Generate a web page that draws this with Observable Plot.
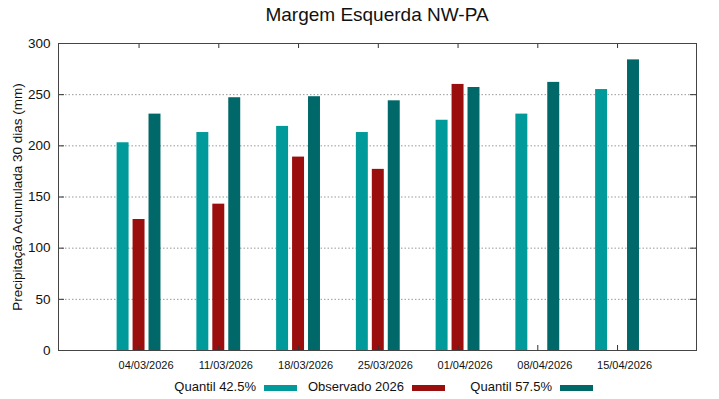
<!DOCTYPE html>
<html><head><meta charset="utf-8">
<script src="https://cdn.jsdelivr.net/npm/d3@7"></script>
<script src="https://cdn.jsdelivr.net/npm/@observablehq/plot@0.6"></script>
<style>
body{margin:0;background:#fff;font-family:"Liberation Sans",Arial,sans-serif;}
#wrap{position:relative;width:719px;height:399px;}
#title{position:absolute;left:0;width:754px;top:4px;text-align:center;font-size:19px;color:#111;}
.lg{position:absolute;top:379px;font-size:13px;color:#111;}
.sw{position:absolute;top:385px;width:33px;height:6px;}
</style></head>
<body><div id="wrap"><div id="title">Margem Esquerda NW-PA</div></div>
<script>
const dates = ["04/03/2026","11/03/2026","18/03/2026","25/03/2026","01/04/2026","08/04/2026","15/04/2026"];
const q425 = [203, 213, 219, 213, 225, 231, 255];
const obs2026 = [128, 143, 189, 177, 260, null, null];
const q575 = [231, 247, 248, 244, 257, 262, 284];
const seriesNames = ["Quantil 42.5%", "Observado 2026", "Quantil 57.5%"];
const colors = ["#009a9a", "#9a0e0e", "#006868"];
const yTicks = [0, 50, 100, 150, 200, 250, 300];
const gridTicks = [50, 100, 150, 200, 250];

const offsets = [-0.2, 0, 0.2];
const halfW = 0.075;
const table = [];
[q425, obs2026, q575].forEach((arr, s) => {
  arr.forEach((v, i) => {
    if (v != null) table.push({i, s, v, x1: i + offsets[s] - halfW, x2: i + offsets[s] + halfW});
  });
});
const xt = dates.map((d, i) => i);

const chart = Plot.plot({
  width: 719, height: 399,
  marginLeft: 58, marginRight: 23, marginTop: 43, marginBottom: 49,
  style: {fontFamily: '"Liberation Sans", Arial, sans-serif', background: "#fff"},
  x: {type: "linear", domain: [-1.01, 6.99]},
  y: {domain: [0, 300]},
  marks: [
    Plot.ruleY(gridTicks, {stroke: "#999", strokeDasharray: "1.5,2", strokeWidth: 1}),
    Plot.rectY(table, {x1: "x1", x2: "x2", y1: 0, y2: "v", fill: d => colors[d.s]}),
    Plot.ruleX(xt, {x: d => d, insetTop: 302, stroke: "#333"}),
    Plot.ruleX(xt, {x: d => d, insetBottom: 302, stroke: "#333"}),
    Plot.ruleY(yTicks, {y: d => d, insetRight: 632, stroke: "#333"}),
    Plot.ruleY(yTicks, {y: d => d, insetLeft: 632, stroke: "#333"}),
    Plot.frame({stroke: "#444"}),
    Plot.axisX(xt, {tickSize: 0, tickPadding: 11, fontSize: 11, dx: 7, tickFormat: i => dates[i], label: null, fill: "#111"}),
    Plot.axisY(yTicks, {tickSize: 0, tickPadding: 8, fontSize: 13.5, label: "Precipitação Acumulada 30 dias (mm)", labelAnchor: "center", labelArrow: "none", labelOffset: 46, fill: "#111"})
  ]
});
const wrap = document.getElementById("wrap");
chart.style.position = "absolute"; chart.style.left = "0"; chart.style.top = "0";
wrap.insertBefore(chart, wrap.firstChild);

const lgEnds = [256, 404, 552];
const swStart = [264, 412, 560];
seriesNames.forEach((n, k) => {
  const t = document.createElement("div");
  t.className = "lg"; t.textContent = n;
  t.style.right = (719 - lgEnds[k]) + "px";
  wrap.appendChild(t);
  const s = document.createElement("div");
  s.className = "sw"; s.style.left = swStart[k] + "px"; s.style.background = colors[k];
  wrap.appendChild(s);
});
</script></body></html>
